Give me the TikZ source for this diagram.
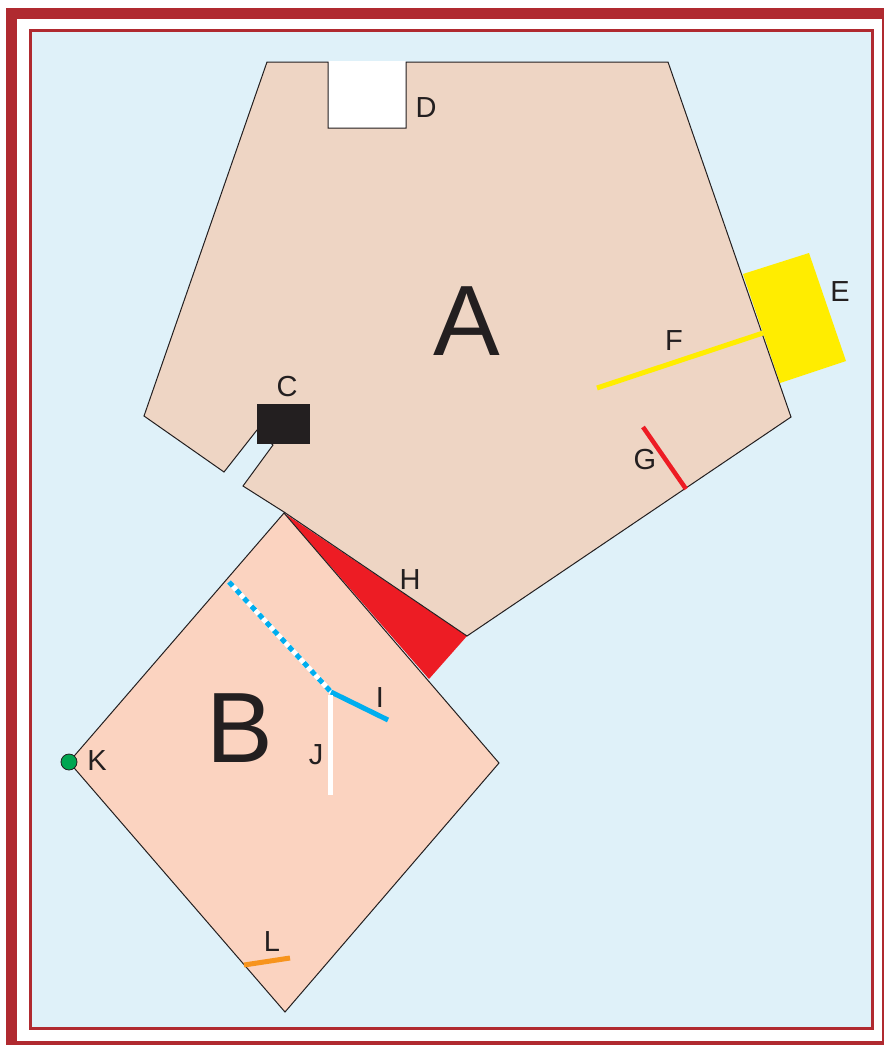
\documentclass[tikz,border=0pt]{standalone}
\usepackage{fontspec}
\setmainfont{Liberation Sans}
\definecolor{framered}{HTML}{B02A30}
\definecolor{bgblue}{HTML}{DFF1F9}
\definecolor{tanA}{HTML}{EED5C4}
\definecolor{peachB}{HTML}{FBD3C0}
\definecolor{ink}{HTML}{231F20}
\definecolor{yel}{HTML}{FFED00}
\definecolor{hred}{HTML}{ED1C24}
\definecolor{cyanb}{HTML}{00AEEF}
\definecolor{orng}{HTML}{F7941D}
\definecolor{grn}{HTML}{00A651}
\begin{document}
\begin{tikzpicture}[x=1pt,y=-1pt,
  lbl/.style={font=\fontsize{29}{29}\selectfont, text=ink, inner sep=0pt},
  biglbl/.style={font=\fontsize{100}{100}\selectfont, text=ink, inner sep=0pt},
  outline/.style={draw=ink, line width=1pt},
  stroke/.style={line width=5pt}]
\useasboundingbox (0,0) rectangle (884,1045);
% frames
\fill[white] (0,0) rectangle (884,1045);
\draw[framered, line width=11pt] (11.5,13.5) rectangle (887.5,1046.5);
\draw[framered, line width=3pt, fill=bgblue] (30,30) rectangle (872,1028);
% E yellow
\fill[yel] (743,274) -- (809,253) -- (846,361) -- (780,383) -- cycle;
% H red triangle
\fill[hred] (284,513) -- (467,636) -- (429,679) -- cycle;
% D notch white
\fill[white] (328,60.5) rectangle (406,128);
% Pentagon A
\draw[outline, fill=tanA] (267,62) -- (328,62) -- (328,128) -- (406,128) -- (406,62) -- (668,62)
  -- (791,417) -- (467,636) -- (284,512) -- (243,486) -- (273,445) -- (257,430)
  -- (224,472) -- (144,416) -- cycle;
% C box
\fill[ink] (257,404) rectangle (310,444);
% Square B
\draw[outline, fill=peachB] (284,513) -- (499,763) -- (285,1012) -- (69,762) -- cycle;
% lines
\draw[yel, stroke] (597,388) -- (763,333);
\draw[hred, line width=4.5pt] (643,427) -- (686,489);
\draw[white, stroke] (229,582) -- (332,693);
\draw[cyanb, stroke, dash pattern=on 5.5pt off 5.5pt] (229,582) -- (332,693);
\draw[cyanb, stroke] (331,692) -- (388,720);
\draw[white, stroke] (330,695) -- (330,795);
\draw[orng, stroke] (244,965) -- (290,958);
% K dot
\draw[fill=grn, draw=ink, line width=0.8pt] (69,762) circle (8);
% labels
\node[biglbl] (A) at (467,321) {A};
\node[biglbl] (B) at (240,728) {B};
\node[lbl] (C) at (287,387) {C};
\node[lbl] (D) at (426,108) {D};
\node[lbl] (E) at (840,292) {E};
\node[lbl] (F) at (674,341) {F};
\node[lbl] (G) at (645,460) {G};
\node[lbl] (H) at (410,580) {H};
\node[lbl] (I) at (380,698) {I};
\node[lbl] (J) at (316,755) {J};
\node[lbl] (K) at (97,761) {K};
\node[lbl] (L) at (272,942) {L};
\end{tikzpicture}
\end{document}
